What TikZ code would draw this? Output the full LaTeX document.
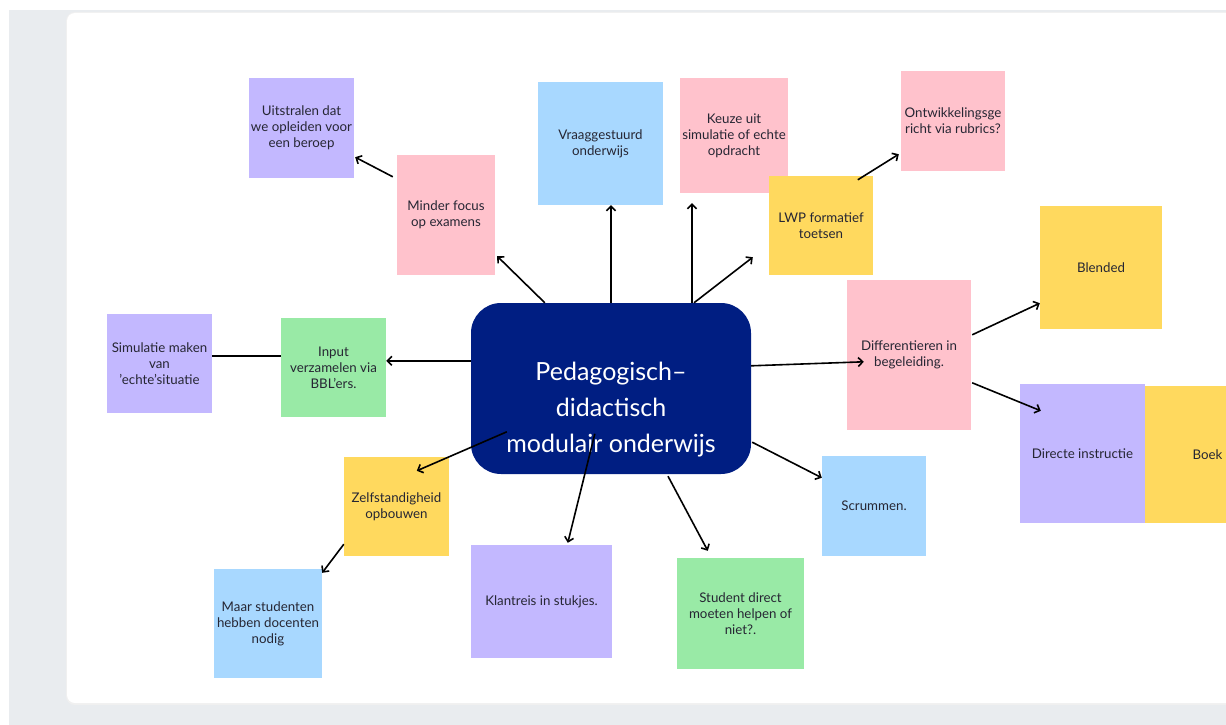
\documentclass[tikz,border=0pt]{standalone}
\usepackage{fontspec}
\setmainfont{Lato}
\usetikzlibrary{calc,arrows.meta}
\definecolor{bgray}{HTML}{E9ECEF}
\definecolor{lav}{HTML}{C3B8FF}
\definecolor{pinkk}{HTML}{FFC2CC}
\definecolor{lblue}{HTML}{A8D8FF}
\definecolor{yell}{HTML}{FFD95E}
\definecolor{grn}{HTML}{99EAA6}
\definecolor{navy}{HTML}{001E82}
\definecolor{ink}{HTML}{262633}
\tikzset{
  sticky/.style={inner sep=0pt, align=center, text=ink, font=\fontsize{13.3}{16}\selectfont},
  conn/.style={line width=1.6pt, black},
  arr/.style={conn, -{Straight Barb[length=4.5pt,width=9pt]}}
}
\begin{document}
\begin{tikzpicture}[x=1pt,y=-1pt]
\useasboundingbox (0,0) rectangle (1226,725);
\fill[white] (0,0) rectangle (1226,725);
\fill[bgray] (9,10) rectangle (1226,725);
\fill[black!6,rounded corners=9pt] (66,12) rectangle (1245,705);
\fill[white,rounded corners=8pt] (67,13) rectangle (1245,703);

% nodes
\node[sticky, fill=lav, minimum width=105pt, minimum height=100pt] (uit) at (301.5,128) {Uitstralen dat\\we opleiden voor\\een beroep};
\node[sticky, fill=pinkk, minimum width=98pt, minimum height=120pt] (minder) at (446,215) {Minder focus\\op examens};
\node[sticky, fill=lblue, minimum width=125pt, minimum height=123pt] (vraag) at (600.5,143.5) {Vraaggestuurd\\onderwijs};
\node[sticky, fill=pinkk, minimum width=108pt, minimum height=115pt] (keuze) at (734,135.5) {Keuze uit\\simulatie of echte\\opdracht};
\node[sticky, fill=yell, minimum width=104pt, minimum height=99pt] (lwp) at (821,225.5) {LWP formatief\\toetsen};
\node[sticky, fill=pinkk, minimum width=104pt, minimum height=100pt] (ontw) at (953,121) {Ontwikkelingsge\\richt via rubrics?};
\node[sticky, fill=yell, minimum width=122pt, minimum height=123pt] (blended) at (1101,267.5) {Blended};
\node[sticky, fill=pinkk, minimum width=124pt, minimum height=150pt] (diff) at (909,355) {Differentieren in\\begeleiding.};
\node[sticky, fill=lav, minimum width=125pt, minimum height=139pt] (directe) at (1082.5,453.5) {Directe instructie};
\node[sticky, fill=yell, minimum width=125pt, minimum height=137pt] (boek) at (1207.5,454.5) {Boek};
\node[sticky, fill=lblue, minimum width=104pt, minimum height=100pt] (scrum) at (874,506) {Scrummen.};
\node[sticky, fill=grn, minimum width=127pt, minimum height=111pt] (student) at (740.5,613.5) {Student direct\\moeten helpen of\\niet?.};
\node[sticky, fill=lav, minimum width=141pt, minimum height=113pt] (klant) at (541.5,601.5) {Klantreis in stukjes.};
\node[sticky, fill=yell, minimum width=105pt, minimum height=99pt] (zelf) at (396.5,506.5) {Zelfstandigheid\\opbouwen};
\node[sticky, fill=lblue, minimum width=108pt, minimum height=109pt] (maar) at (268,623.5) {Maar studenten\\hebben docenten\\nodig};
\node[sticky, fill=lav, minimum width=105pt, minimum height=99pt] (sim) at (159.5,363.5) {Simulatie maken\\van\\'echte'situatie};
\node[sticky, fill=grn, minimum width=105pt, minimum height=99pt] (input) at (333.5,367.5) {Input\\verzamelen via\\BBL'ers.};
\node[fill=navy, rounded corners=30pt, minimum width=280pt, minimum height=171pt, inner sep=0pt,
  label={[font=\fontsize{25}{36}\selectfont, text=white, align=center, yshift=-21pt]center:Pedagogisch–\\didactisch\\modulair onderwijs}] (c) at (611,388.5) {};

% connectors
\draw[arr] ($(c.north west)+(74,0)$) -- ($(minder.south east)+(2,-19)$);
\draw[arr] (c.north) -- (vraag.south -| c.north);
\draw[arr] ($(c.north)+(81,0)$) -- ($(keuze.south)+(-42,10)$);
\draw[arr] ($(c.north)+(83,0)$) -- ($(lwp.south west)+(-16,-18)$);
\draw[arr] ($(lwp.north west)+(89,4)$) -- ($(ontw.south west)+(-2,-17)$);
\draw[arr] ($(minder.north west)+(-4,22)$) -- ($(uit.south east)+(1,-21)$);
\draw[arr] ($(c.north east)+(0,63)$) -- ($(diff.north west)+(17,82)$);
\draw[arr] ($(diff.north east)+(1,55)$) -- ($(blended.south west)+(0,-26)$);
\draw[arr] ($(diff.north east)+(1,103)$) -- ($(directe.north west)+(21,27)$);
\draw[arr] ($(c.north west)+(0,58)$) -- ($(input.north east)+(0,43)$);
\draw[conn] ($(input.north west)+(0,38)$) -- ($(sim.north east)+(0,42)$);
\draw[arr] ($(c.north west)+(36,129)$) -- ($(zelf.north west)+(73,14)$);
\draw[arr] ($(zelf.south west)+(0,-12)$) -- ($(maar.north east)+(0,4)$);
\draw[arr] ($(c.north west)+(124,131)$) -- ($(klant.north west)+(97,-2)$);
\draw[arr] ($(c.south)+(57,2)$) -- ($(student.north west)+(31,-7)$);
\draw[arr] ($(c.south east)+(1,-32)$) -- ($(scrum.north west)+(0,22)$);
\end{tikzpicture}
\end{document}
